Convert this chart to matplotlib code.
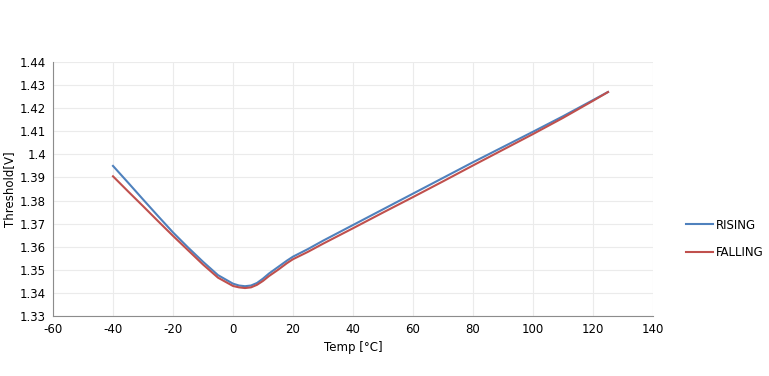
import numpy as np
import matplotlib.pyplot as plt
from matplotlib.ticker import FuncFormatter

plt.rcParams['axes.unicode_minus'] = False

# valori
temp = [-40, -35, -30, -25, -20, -15, -10, -5, 0, 2, 4, 6, 8, 10, 12, 15, 18,
        20, 25, 30, 40, 50, 60, 70, 80, 90, 100, 110, 120, 125]
rising = [1.3950, 1.3878, 1.3805, 1.3733, 1.3662, 1.3597, 1.3535, 1.3477,
          1.3440, 1.3432, 1.3429, 1.3432, 1.3443, 1.3462, 1.3484, 1.3512, 1.3540,
          1.3557, 1.3590, 1.3626, 1.3694, 1.3762, 1.3830, 1.3898, 1.3966,
          1.4032, 1.4098, 1.4165, 1.4235, 1.4270]
falling = [1.3905, 1.3840, 1.3776, 1.3711, 1.3647, 1.3585, 1.3523, 1.3466,
           1.3430, 1.3424, 1.3421, 1.3424, 1.3435, 1.3452, 1.3473, 1.3500, 1.3529,
           1.3546, 1.3578, 1.3613, 1.3680, 1.3748, 1.3815, 1.3883, 1.3952,
           1.4020, 1.4088, 1.4158, 1.4232, 1.4270]

fig = plt.figure(figsize=(7.69, 3.76), dpi=100)
ax = fig.add_axes([53/769, 1 - 316/376, 600/769, 254/376])

ax.plot(temp, rising, color='#4F81BD', linewidth=1.5, label='RISING')
ax.plot(temp, falling, color='#C0504D', linewidth=1.5, label='FALLING')

ax.set_xlim(-60, 140)
ax.set_ylim(1.33, 1.44)
ax.set_xticks(np.arange(-60, 141, 20))
ax.set_yticks(np.arange(1.33, 1.4401, 0.01))
ax.yaxis.set_major_formatter(FuncFormatter(lambda v, p: '%g' % round(v, 2)))
ax.tick_params(length=0, labelsize=8.5, pad=5)
ax.grid(color='#ebebeb', linestyle='-', linewidth=0.8)
for s in ['top', 'right']:
    ax.spines[s].set_visible(False)
for s in ['left', 'bottom']:
    ax.spines[s].set_color('#8c8c8c')

ax.set_xlabel('Temp [°C]', fontsize=8.5, labelpad=4)
ax.set_ylabel('Threshold[V]', fontsize=8.5, labelpad=3)

fig.legend(loc='upper left', bbox_to_anchor=(682/769, 1 - 215/376), frameon=False,
           fontsize=8.5, handlelength=2.3, handletextpad=0.3, labelspacing=1.25,
           borderaxespad=0, borderpad=0.3)

fig.savefig('out.png', dpi=100)
